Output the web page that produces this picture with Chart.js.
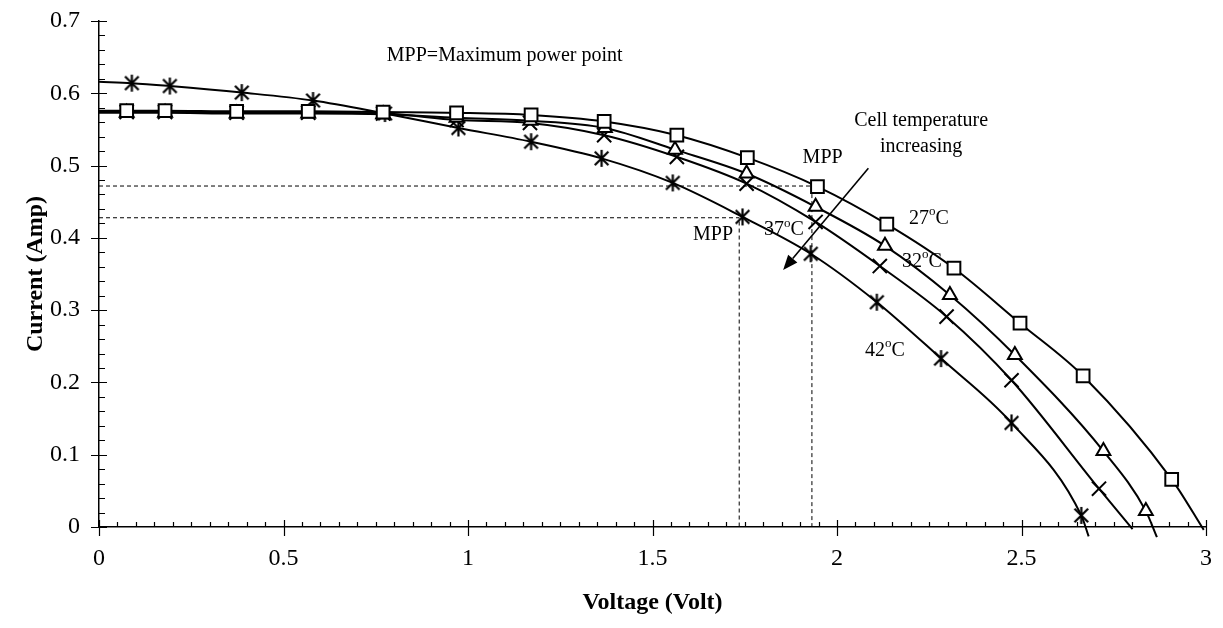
<!DOCTYPE html>
<html>
<head>
<meta charset="utf-8">
<title>I-V characteristics at different cell temperatures</title>
<script src="https://cdn.jsdelivr.net/npm/chart.js@4.4.0/dist/chart.umd.min.js"></script>
<style>
  html, body { margin: 0; padding: 0; background: #ffffff; }
  #wrap { width: 1223px; height: 628px; }
</style>
</head>
<body>
<div id="wrap"><canvas id="iv" width="1223" height="628"></canvas></div>
<script>
// ---- Measured I-V points (voltage in V, current in A) ----
const volt27 = [0.075, 0.179, 0.373, 0.567, 0.770, 0.969, 1.171, 1.369, 1.566, 1.757, 1.947, 2.135, 2.317, 2.496, 2.667, 2.907];
const amp27  = [0.576, 0.576, 0.575, 0.575, 0.574, 0.573, 0.570, 0.561, 0.542, 0.511, 0.471, 0.419, 0.358, 0.282, 0.209, 0.066];

const volt32 = [0.075, 0.179, 0.373, 0.567, 0.770, 0.969, 1.169, 1.371, 1.561, 1.755, 1.942, 2.130, 2.306, 2.482, 2.722, 2.837];
const amp32  = [0.573, 0.573, 0.572, 0.572, 0.571, 0.566, 0.562, 0.552, 0.522, 0.489, 0.443, 0.389, 0.321, 0.238, 0.105, 0.022];

const volt37 = [0.075, 0.179, 0.373, 0.567, 0.770, 0.969, 1.168, 1.369, 1.566, 1.755, 1.942, 2.116, 2.297, 2.473, 2.710];
const amp37  = [0.574, 0.574, 0.573, 0.573, 0.572, 0.563, 0.559, 0.542, 0.512, 0.475, 0.422, 0.361, 0.291, 0.203, 0.053];

const volt42 = [0.089, 0.192, 0.387, 0.580, 0.775, 0.974, 1.171, 1.362, 1.555, 1.744, 1.929, 2.108, 2.282, 2.473, 2.662];
const amp42  = [0.614, 0.610, 0.601, 0.590, 0.572, 0.552, 0.533, 0.510, 0.476, 0.429, 0.378, 0.311, 0.233, 0.144, 0.016];

// ---- Ends of the fitted trend curves: [V, I] at the start and where they meet the axis ----
const fitEnds27 = [[0, 0.576], [2.994, -0.004]];
const fitEnds32 = [[0, 0.573], [2.867, -0.014]];
const fitEnds37 = [[0, 0.574], [2.801, -0.003]];
const fitEnds42 = [[0, 0.616], [2.682, -0.013]];

// ---- Maximum power point guide lines ----
const mppUpper = [[0, 0.4717], [1.932, 0.4717], [1.932, 0]];
const mppLower = [[0, 0.4278], [1.735, 0.4278], [1.735, 0]];

// ---- Axis ticks ----
const xTicks = [0, 0.5, 1, 1.5, 2, 2.5, 3];
const yTicks = [0, 0.1, 0.2, 0.3, 0.4, 0.5, 0.6, 0.7];
const xTickLabels = ['0', '0.5', '1', '1.5', '2', '2.5', '3'];
const yTickLabels = ['0', '0.1', '0.2', '0.3', '0.4', '0.5', '0.6', '0.7'];

const SERIF = "'Liberation Serif', 'Times New Roman', serif";
Chart.defaults.font.family = SERIF;
Chart.defaults.color = '#000';

const toXY = (vs, is) => vs.map((v, k) => ({ x: v, y: is[k] }));
const pairs = arr => arr.map(p => ({ x: p[0], y: p[1] }));

// Six-armed star marker (vertical bar plus diagonal cross)
function starGlyph(size, lw) {
  const cv = document.createElement('canvas');
  cv.width = size; cv.height = size;
  const g = cv.getContext('2d');
  const h = size / 2, a = size / 2 - 1, d = a * 0.8;
  g.strokeStyle = '#000';
  g.lineWidth = lw;
  g.beginPath();
  g.moveTo(h, h - a); g.lineTo(h, h + a);
  g.moveTo(h - d, h - d); g.lineTo(h + d, h + d);
  g.moveTo(h + d, h - d); g.lineTo(h - d, h + d);
  g.stroke();
  return cv;
}

function markerSet(vs, is, style, radius, fillWhite) {
  return {
    data: toXY(vs, is),
    showLine: false,
    pointStyle: style,
    pointRadius: radius,
    pointBorderWidth: 2,
    pointBorderColor: '#000',
    pointBackgroundColor: fillWhite ? '#ffffff' : 'rgba(0,0,0,0)',
    order: 0
  };
}

function curveSet(vs, is, ends) {
  return {
    data: [pairs([ends[0]])[0], ...toXY(vs, is), pairs([ends[1]])[0]],
    showLine: true,
    borderColor: '#000',
    borderWidth: 2,
    pointRadius: 0,
    cubicInterpolationMode: 'monotone',
    fill: false,
    clip: { left: 0, top: 0, right: 12, bottom: 14 },
    order: 1
  };
}

function guideSet(points) {
  return {
    data: pairs(points),
    showLine: true,
    borderColor: '#000',
    borderWidth: 1,
    borderDash: [4, 3],
    pointRadius: 0,
    tension: 0,
    fill: false,
    order: 2
  };
}

// Tick marks: majors cross the axis line, minors sit inside the plot
const axisTicks = {
  id: 'axisTicks',
  afterDraw(chart) {
    const { ctx, scales: { x, y } } = chart;
    const x0 = x.getPixelForValue(0), y0 = y.getPixelForValue(0);
    ctx.save();
    ctx.strokeStyle = '#000';
    ctx.lineWidth = 1.2;
    ctx.beginPath();
    for (let k = 0; k <= 60; k++) {
      const px = Math.round(x.getPixelForValue(k * 0.05)) + 0.5;
      if (k % 10 === 0) { ctx.moveTo(px, y0 - 7); ctx.lineTo(px, y0 + 9); }
      else { ctx.moveTo(px, y0 - 5); ctx.lineTo(px, y0); }
    }
    for (let k = 0; k <= 35; k++) {
      const py = Math.round(y.getPixelForValue(k * 0.02)) + 0.5;
      if (k % 5 === 0) { ctx.moveTo(x0 - 8, py); ctx.lineTo(x0 + 8, py); }
      else { ctx.moveTo(x0, py); ctx.lineTo(x0 + 6, py); }
    }
    ctx.stroke();
    ctx.restore();
  }
};

// Plain notes placed in data coordinates
const notes = [
  { text: 'MPP=Maximum power point', v: 0.780, i: 0.6523, align: 'left' },
  { text: 'Cell temperature', v: 2.228, i: 0.5617, align: 'center' },
  { text: 'increasing', v: 2.228, i: 0.5260, align: 'center' },
  { text: 'MPP', v: 1.961, i: 0.5105, align: 'center' },
  { text: 'MPP', v: 1.664, i: 0.4039, align: 'center' }
];
// Temperature labels with a raised degree sign
const tempLabels = [
  { t: '27', v: 2.249, i: 0.4260 },
  { t: '32', v: 2.230, i: 0.3666 },
  { t: '37', v: 1.856, i: 0.4107 },
  { t: '42', v: 2.130, i: 0.2437 }
];
// Arrow showing the direction of rising temperature
const tempArrow = { from: [2.085, 0.4962], to: [1.854, 0.3554] };

const annotations = {
  id: 'annotations',
  afterDatasetsDraw(chart) {
    const { ctx, scales: { x, y } } = chart;
    ctx.save();
    ctx.fillStyle = '#000';
    ctx.textBaseline = 'middle';
    ctx.font = '20px ' + SERIF;
    notes.forEach(n => {
      ctx.textAlign = n.align;
      ctx.fillText(n.text, x.getPixelForValue(n.v), y.getPixelForValue(n.i));
    });

    tempLabels.forEach(l => {
      const big = '20px ' + SERIF, small = '13px ' + SERIF;
      ctx.font = big; const w1 = ctx.measureText(l.t).width; const w3 = ctx.measureText('C').width;
      ctx.font = small; const w2 = ctx.measureText('o').width;
      let px = x.getPixelForValue(l.v) - (w1 + w2 + w3) / 2;
      const py = y.getPixelForValue(l.i);
      ctx.textAlign = 'left';
      ctx.font = big; ctx.fillText(l.t, px, py); px += w1;
      ctx.font = small; ctx.fillText('o', px, py - 7); px += w2;
      ctx.font = big; ctx.fillText('C', px, py);
    });

    const ax = x.getPixelForValue(tempArrow.from[0]), ay = y.getPixelForValue(tempArrow.from[1]);
    const bx = x.getPixelForValue(tempArrow.to[0]), by = y.getPixelForValue(tempArrow.to[1]);
    const ang = Math.atan2(by - ay, bx - ax);
    const head = 15, half = 6;
    const hx = bx - Math.cos(ang) * head, hy = by - Math.sin(ang) * head;
    ctx.strokeStyle = '#000';
    ctx.lineWidth = 1.6;
    ctx.beginPath(); ctx.moveTo(ax, ay); ctx.lineTo(hx, hy); ctx.stroke();
    ctx.beginPath();
    ctx.moveTo(bx, by);
    ctx.lineTo(hx + Math.sin(ang) * half, hy - Math.cos(ang) * half);
    ctx.lineTo(hx - Math.sin(ang) * half, hy + Math.cos(ang) * half);
    ctx.closePath(); ctx.fill();
    ctx.restore();
  }
};

new Chart(document.getElementById('iv'), {
  type: 'scatter',
  data: {
    datasets: [
      markerSet(volt27, amp27, 'rect', 9, true),
      markerSet(volt32, amp32, 'triangle', 8, true),
      markerSet(volt37, amp37, 'crossRot', 10, false),
      markerSet(volt42, amp42, starGlyph(19, 2.2), 9, false),
      curveSet(volt27, amp27, fitEnds27),
      curveSet(volt32, amp32, fitEnds32),
      curveSet(volt37, amp37, fitEnds37),
      curveSet(volt42, amp42, fitEnds42),
      guideSet(mppUpper),
      guideSet(mppLower)
    ]
  },
  options: {
    responsive: false,
    animation: false,
    devicePixelRatio: 1,
    events: [],
    layout: { padding: { top: 21, right: 17, bottom: 0, left: 0 } },
    plugins: { legend: { display: false }, tooltip: { enabled: false } },
    scales: {
      x: {
        type: 'linear', min: 0, max: 3,
        afterFit(s) { s.height = 101; s.paddingLeft = 0; s.paddingRight = 0; },
        afterBuildTicks(s) { s.ticks = xTicks.map(v => ({ value: v })); },
        grid: { display: false, drawTicks: false },
        border: { display: true, color: '#000', width: 1.5 },
        ticks: {
          autoSkip: false, maxRotation: 0, padding: 17,
          font: { size: 24 }, color: '#000',
          callback: (v, k) => xTickLabels[k]
        },
        title: {
          display: true, text: 'Voltage (Volt)', color: '#000',
          font: { size: 24, weight: 'bold' }, padding: { top: 0, bottom: 11 }
        }
      },
      y: {
        type: 'linear', min: 0, max: 0.7,
        afterFit(s) { s.width = 99; s.paddingTop = 0; s.paddingBottom = 0; },
        afterBuildTicks(s) { s.ticks = yTicks.map(v => ({ value: v })); },
        grid: { display: false, drawTicks: false },
        border: { display: true, color: '#000', width: 1.5 },
        ticks: {
          autoSkip: false, padding: 19,
          font: { size: 24 }, color: '#000',
          callback: (v, k) => yTickLabels[k]
        },
        title: {
          display: true, text: 'Current (Amp)', color: '#000',
          font: { size: 24, weight: 'bold' }, padding: { top: 21, bottom: 0 }
        }
      }
    }
  },
  plugins: [axisTicks, annotations]
});
</script>
</body>
</html>
